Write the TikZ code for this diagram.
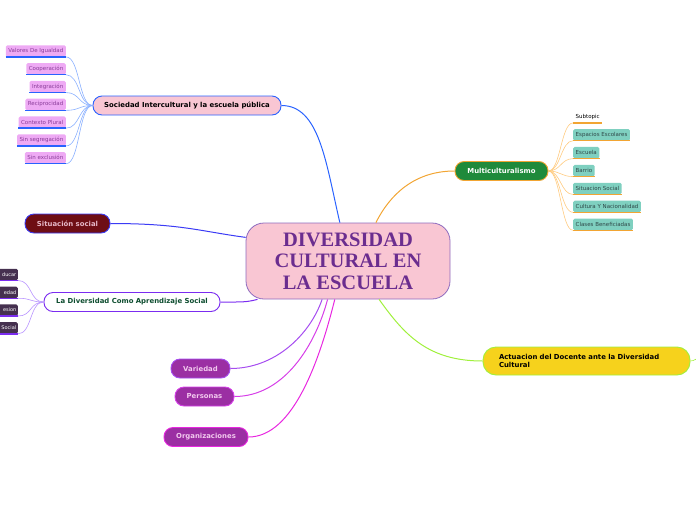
\documentclass[tikz,border=0pt]{standalone}
\usepackage{fontspec}
\setmainfont{DejaVu Sans}
\newfontfamily\titlefont{Liberation Serif}
\usetikzlibrary{calc}
\definecolor{pinkfill}{HTML}{F9C6D3}
\definecolor{centbord}{HTML}{8E6BBF}
\definecolor{titlepurple}{HTML}{6B2D8F}
\definecolor{socblue}{HTML}{2962FF}
\definecolor{lightblue}{HTML}{8AB0FF}
\definecolor{subpink}{HTML}{EEAAF4}
\definecolor{subpinktext}{HTML}{8A3C99}
\definecolor{multigreen}{HTML}{1F8A3B}
\definecolor{multiorange}{HTML}{F2A533}
\definecolor{lightorange}{HTML}{FFCB80}
\definecolor{subteal}{HTML}{7FD0C0}
\definecolor{tealtext}{HTML}{2F4848}
\definecolor{sitred}{HTML}{6E0E14}
\definecolor{sitblue}{HTML}{3B3BF5}
\definecolor{sittext}{HTML}{E6B8C8}
\definecolor{divpurple}{HTML}{7B2CF0}
\definecolor{divgreen}{HTML}{0D4D2F}
\definecolor{lightpurple}{HTML}{B894FF}
\definecolor{darkplum}{HTML}{45304F}
\definecolor{plumfill}{HTML}{9B2FA3}
\definecolor{plumtext}{HTML}{F2C9EE}
\definecolor{varbord}{HTML}{A64DF0}
\definecolor{perbord}{HTML}{D63EE8}
\definecolor{orgbord}{HTML}{E827E0}
\definecolor{actyellow}{HTML}{F6D21C}
\definecolor{actlime}{HTML}{A0F03C}

\begin{document}
\begin{tikzpicture}[x=1pt,y=-1pt,
    central/.style={
        rectangle, rounded corners=18pt, draw=centbord, fill=pinkfill,
        line width=0.8pt, minimum width=204pt, minimum height=76pt,
        align=center, text=titlepurple,
        font=\titlefont\bfseries\fontsize{20.5}{21.5}\selectfont,
    },
    topic/.style={
        rectangle, rounded corners=9pt, line width=0.9pt,
        minimum height=19pt, inner sep=0pt, align=center,
        font=\bfseries\fontsize{6.9}{8}\selectfont,
    },
    subtopic/.style={
        rectangle, rounded corners=1.5pt, minimum height=11.5pt,
        inner xsep=2.5pt, inner ysep=0pt,
        font=\fontsize{5.5}{6.5}\selectfont,
    },
    pinksub/.style={subtopic, fill=subpink, text=subpinktext},
    tealsub/.style={subtopic, fill=subteal, text=tealtext},
    plumsub/.style={subtopic, fill=darkplum, text=white, inner xsep=1.5pt,
        font=\fontsize{5}{6}\selectfont},
    uline/.style={line width=1.4pt, draw=#1},
    link/.style={line width=1pt, draw=#1},
    twig/.style={line width=0.6pt, draw=#1},
]
\useasboundingbox (0,0) rectangle (696,520);

% Centre
\node[central] (c) at (348,261) {DIVERSIDAD\\CULTURAL EN\\LA ESCUELA};

% Main topics
\node[topic, draw=socblue, fill=pinkfill, minimum width=188pt] (soc) at (187,105.5)
    {Sociedad Intercultural y la escuela pública};
\node[topic, draw=multiorange, fill=multigreen, text=white, minimum width=93pt] (multi) at (501.5,171)
    {Multiculturalismo};
\node[topic, draw=sitblue, fill=sitred, text=sittext, minimum width=85pt] (sit) at (67.5,223.5)
    {Situación social};
\node[topic, draw=divpurple, fill=white, text=divgreen, minimum width=176pt] (div) at (132,302)
    {La Diversidad Como Aprendizaje Social};
\node[topic, draw=varbord, fill=plumfill, text=plumtext, minimum width=59pt] (var) at (200.5,368.5)
    {Variedad};
\node[topic, draw=perbord, fill=plumfill, text=plumtext, minimum width=59pt] (per) at (204.5,396.5)
    {Personas};
\node[topic, draw=orgbord, fill=plumfill, text=plumtext, minimum width=84pt] (org) at (206,437)
    {Organizaciones};
\node[topic, draw=actlime, fill=actyellow, text=black, minimum width=207pt, minimum height=28pt,
      rounded corners=13pt, align=left, text width=175pt] (act) at (586.5,361)
    {Actuacion del Docente ante la Diversidad\\Cultural};
\coordinate (actout) at (700,357);

% Links from the centre
\draw[link=socblue] (soc.east) .. controls +(38,0) and +(-14,-60) .. (c.102);
\draw[link=multiorange] (c.54) .. controls +(14,-28) and +(-40,0) .. (multi.west);
\draw[link=sitblue] (sit.east) .. controls +(70,0) and +(-45,-6) .. (c.167);
\draw[link=divpurple] (div.east) .. controls +(22,0) and +(-12,3) .. (c.203);
\draw[link=varbord] (var.east) .. controls +(45,0) and +(-12,35) .. (c.236);
\draw[link=perbord] (per.east) .. controls +(50,0) and +(-12,45) .. (c.242);
\draw[link=orgbord] (org.east) .. controls +(45,0) and +(-15,60) .. (c.251);
\draw[link=actlime] (c.309) .. controls +(25,35) and +(-55,0) .. (act.west);
\draw[twig=actlime] (act.east) .. controls +(4,0) and +(-3,1) .. (actout);

% Subtopics of Sociedad
\foreach \lbl [count=\i] in {Valores De Igualdad, Cooperación, Integración, Reciprocidad,
                             Contexto Plural, Sin segregación, Sin exclusión} {
    \node[pinksub, anchor=east] (soc\i) at (66,{51+(\i-1)*17.8}) {\lbl};
    \draw[twig=lightblue] (soc.west) .. controls +(-14,0) and +(14,0) .. (soc\i.south east);
    \draw[uline=socblue] (soc\i.south west) -- (soc\i.south east);
}

% Subtopics of Multiculturalismo
\node[subtopic, anchor=west] (multi0) at (573,117) {Subtopic};
\draw[twig=lightorange] (multi.east) .. controls +(12,0) and +(-12,0) .. (multi0.south west);
\draw[uline=multiorange] (multi0.south west) -- (multi0.south east);
\foreach \lbl [count=\i] in {Espacios Escolares, Escuela, Barrio, Situacion Social,
                             Cultura Y Nacionalidad, Clases Beneficiadas} {
    \node[tealsub, anchor=west] (multi\i) at (573,{134.8+(\i-1)*17.9}) {\lbl};
    \draw[twig=lightorange] (multi.east) .. controls +(12,0) and +(-12,0) .. (multi\i.south west);
    \draw[uline=multiorange] (multi\i.south west) -- (multi\i.south east);
}

% Subtopics of La Diversidad (cut at the left edge)
\foreach \lbl [count=\i] in {ducar, edad, esion, Social} {
    \node[plumsub, anchor=east, text width=30pt, align=right] (div\i) at (18,{274.5+(\i-1)*17.8}) {\lbl};
    \draw[twig=lightpurple] (div.west) .. controls +(-14,0) and +(14,0) .. (div\i.south east);
    \draw[uline=divpurple] (div\i.south west) -- (div\i.south east);
}

\end{tikzpicture}
\end{document}
